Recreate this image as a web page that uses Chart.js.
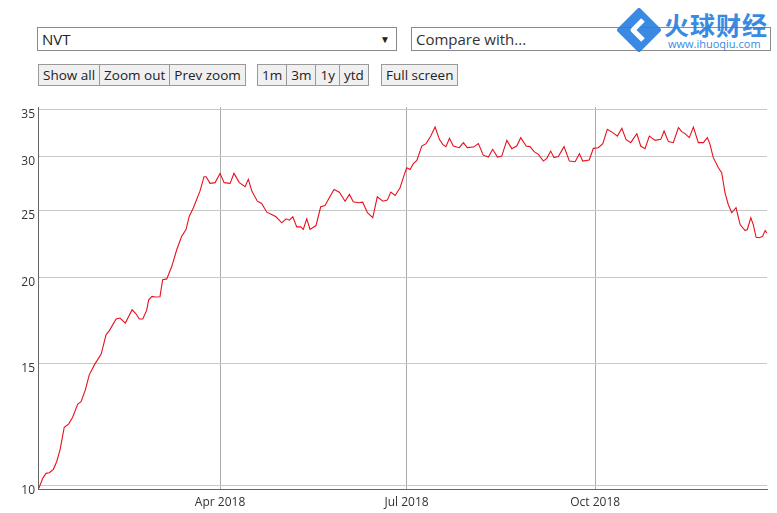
<!DOCTYPE html>
<html lang="en">
<head>
    <meta charset="UTF-8">
    <title>NVT</title>
    <style>
        body {
            margin: 0;
            width: 777px;
            height: 513px;
            background: #fff;
            font-family: 'Open Sans', sans-serif;
            position: relative;
            overflow: hidden;
        }
        .select {
            position: absolute;
            top: 27px;
            height: 22px;
            border: 1px solid #8a8a8a;
            background: #fff;
            font-size: 15px;
            color: #222;
            line-height: 22px;
            padding-left: 4px;
            box-sizing: content-box;
        }
        .select .arrow {
            position: absolute;
            right: 6px;
            top: 0;
            font-size: 10px;
        }
        .btns {
            position: absolute;
            top: 64px;
            display: flex;
        }
        .btns span {
            display: block;
            height: 20px;
            line-height: 20px;
            border: 1px solid #999;
            border-left: none;
            background: #f0f0f0;
            font-size: 13.5px;
            color: #222;
            padding: 0 4px;
        }
        .btns span:first-child {
            border-left: 1px solid #999;
        }
        .logo {
            position: absolute;
            left: 616px;
            top: 8px;
            width: 160px;
            height: 44px;
            opacity: 0.92;
        }
        .logo .cn {
            position: absolute;
            left: 48px;
            top: -2px;
            font-family: 'Noto Sans CJK SC', sans-serif;
            font-weight: bold;
            font-size: 25px;
            color: #2a7fe0;
            letter-spacing: 1px;
        }
        .logo .url {
            position: absolute;
            left: 52px;
            top: 28px;
            font-size: 11px;
            color: #2a7fe0;
        }
        #wrap {
            position: absolute;
            left: 0;
            top: 100px;
            width: 777px;
            height: 413px;
        }
    </style>
</head>
<body>
    <div class="select" style="left:37px; width:354px;">NVT<span class="arrow">&#9660;</span></div>
    <div class="select" style="left:411px; width:354px; color:#333;">Compare with...</div>

    <div class="btns" style="left:38px;"><span>Show all</span><span>Zoom out</span><span>Prev zoom</span></div>
    <div class="btns" style="left:257px;"><span>1m</span><span>3m</span><span>1y</span><span>ytd</span></div>
    <div class="btns" style="left:381px;"><span>Full screen</span></div>

    <div class="logo">
        <svg width="46" height="44" viewBox="0 0 46 44" style="position:absolute;left:0;top:0">
            <path d="M23 2 L43 22 L23 42 L3 22 Z" fill="#2a7fe0" stroke="#2a7fe0" stroke-width="4" stroke-linejoin="round"/>
            <path d="M27 12 L17 22 L27 32" fill="none" stroke="#fff" stroke-width="5" stroke-linejoin="round"/>
        </svg>
        <div class="cn">火球财经</div>
        <div class="url">www.ihuoqiu.com</div>
    </div>

    <div id="wrap"><canvas id="chart"></canvas></div>

    <script src="https://cdn.jsdelivr.net/npm/chart.js"></script>
    <script>
        // days counted from 1 Jan 2018, closing prices
        const days = [1.6, 3.5, 5.1, 6.7, 8.7, 10.3, 12.0, 14.0, 16.2, 18.1,
            20.6, 22.2, 24.3, 26.2, 28.7, 32.0, 34.4, 36.0, 39.3, 41.2,
            43.8, 47.1, 49.0, 50.6, 52.3, 54.2, 55.2, 56.8, 58.4, 60.7,
            62.0, 64.0, 66.4, 68.9, 71.3, 73.4, 75.0, 77.0, 80.2, 82.2,
            83.2, 85.1, 87.6, 90.0, 92.0, 94.9, 96.8, 99.4, 102.2, 103.8,
            105.5, 108.2, 110.3, 112.8, 115.2, 117.3, 120.1, 122.2, 123.8, 125.5,
            127.4, 129.4, 130.6, 132.3, 133.9, 136.8, 139.1, 141.2, 143.3, 145.6,
            148.2, 151.0, 153.1, 155.0, 157.5, 159.6, 161.9, 164.5, 166.7, 169.4,
            171.6, 173.3, 175.4, 177.8, 180.2, 181.1, 182.7, 184.3, 186.0, 188.4,
            190.5, 192.8, 194.9, 197.0, 198.6, 200.2, 201.9, 203.8, 206.7, 208.7,
            210.6, 213.6, 216.0, 218.4, 220.9, 223.0, 225.3, 227.4, 229.9, 232.3,
            234.7, 236.7, 239.3, 241.2, 243.2, 245.3, 247.7, 249.4, 251.3, 252.9,
            255.0, 257.8, 260.4, 263.2, 265.3, 266.9, 270.1, 272.1, 274.5, 276.7,
            278.9, 281.6, 283.8, 286.0, 288.0, 290.3, 293.3, 295.2, 297.3, 299.4,
            302.2, 305.0, 306.6, 308.7, 311.1, 313.6, 315.2, 316.8, 318.9, 320.9,
            323.3, 325.8, 327.7, 329.0, 330.6, 333.1, 334.7, 336.3, 337.9, 339.6,
            341.7, 343.7, 346.1, 347.2, 348.9, 350.1, 351.5, 353.1, 354.7, 355.9,
            356.7];

        const prices = [9.89, 10.23, 10.40, 10.42, 10.54, 10.81, 11.27, 12.13, 12.27, 12.54,
            13.11, 13.21, 13.74, 14.45, 14.94, 15.49, 16.52, 16.75, 17.41, 17.47,
            17.18, 17.96, 17.72, 17.41, 17.41, 17.92, 18.57, 18.78, 18.74, 18.76,
            19.86, 19.91, 20.73, 21.96, 22.96, 23.48, 24.55, 25.25, 26.69, 28.01,
            28.01, 27.39, 27.46, 28.32, 27.46, 27.39, 28.32, 27.46, 27.09, 27.76,
            26.69, 25.81, 25.61, 24.88, 24.69, 24.50, 24.01, 24.33, 24.22, 24.50,
            23.69, 23.69, 23.48, 24.33, 23.48, 23.79, 25.33, 25.44, 26.10, 26.84,
            26.60, 25.81, 26.40, 25.76, 25.67, 25.72, 24.83, 24.42, 26.19, 25.81,
            25.90, 26.60, 26.31, 27.00, 28.39, 28.86, 28.70, 29.26, 29.58, 31.03,
            31.28, 32.08, 33.06, 31.73, 31.20, 30.96, 31.84, 31.03, 30.86, 31.38,
            30.86, 30.92, 31.28, 30.10, 29.90, 30.69, 29.90, 30.00, 31.62, 30.76,
            31.03, 31.91, 31.03, 30.97, 30.45, 30.18, 29.51, 29.78, 30.51, 29.85,
            29.95, 30.97, 29.51, 29.44, 30.25, 29.51, 29.61, 30.79, 30.86, 31.28,
            32.81, 32.45, 32.08, 32.92, 31.73, 31.38, 32.34, 31.03, 30.76, 32.08,
            31.62, 31.73, 32.63, 31.49, 31.38, 33.00, 32.56, 32.34, 31.91, 33.06,
            31.38, 31.38, 31.91, 31.20, 29.85, 28.86, 28.39, 26.55, 25.53, 24.83,
            25.25, 23.87, 23.40, 23.48, 24.42, 23.87, 22.88, 22.84, 22.96, 23.40,
            23.22];

        const yTicks = [10, 15, 20, 25, 30, 35];
        const xTickDays = [90, 181, 273];
        const xTickLabels = ['Apr 2018', 'Jul 2018', 'Oct 2018'];

        const points = days.map((d, i) => ({ x: d, y: prices[i] }));

        new Chart(document.getElementById('chart'), {
            type: 'line',
            data: {
                datasets: [{
                    label: 'NVT',
                    data: points,
                    borderColor: '#e8101c',
                    borderWidth: 1.1,
                    pointRadius: 0,
                    tension: 0,
                    fill: false
                }]
            },
            options: {
                responsive: true,
                maintainAspectRatio: false,
                animation: false,
                layout: { padding: { top: 7, right: 10, left: 0, bottom: 0 } },
                plugins: {
                    legend: { display: false },
                    tooltip: { enabled: false }
                },
                scales: {
                    x: {
                        type: 'linear',
                        min: 1.2,
                        max: 356.8,
                        afterBuildTicks: scale => {
                            scale.ticks = xTickDays.map(v => ({ value: v }));
                        },
                        afterFit: scale => {
                            scale.height = 24;
                            scale.paddingLeft = 0;
                            scale.paddingRight = 0;
                        },
                        ticks: {
                            autoSkip: false,
                            maxRotation: 0,
                            padding: 6,
                            color: '#333',
                            font: { family: 'Open Sans', size: 12 },
                            callback: v => xTickLabels[xTickDays.indexOf(v)]
                        },
                        grid: { color: '#aaa', drawTicks: false },
                        border: { color: '#666', width: 1 }
                    },
                    y: {
                        type: 'logarithmic',
                        min: 9.87,
                        max: 35.35,
                        afterBuildTicks: scale => {
                            scale.ticks = yTicks.map(v => ({ value: v }));
                        },
                        afterFit: scale => {
                            // keep the plot box where the layout padding puts it
                            scale.width = 38;
                            scale.paddingTop = 0;
                            scale.paddingBottom = 0;
                        },
                        ticks: {
                            autoSkip: false,
                            padding: 3,
                            labelOffset: 5,
                            color: '#333',
                            font: { family: 'Open Sans', size: 12 },
                            callback: v => String(v)
                        },
                        grid: { color: '#c8c8c8', drawTicks: false },
                        border: { color: '#666', width: 1 }
                    }
                }
            }
        });
    </script>
</body>
</html>
